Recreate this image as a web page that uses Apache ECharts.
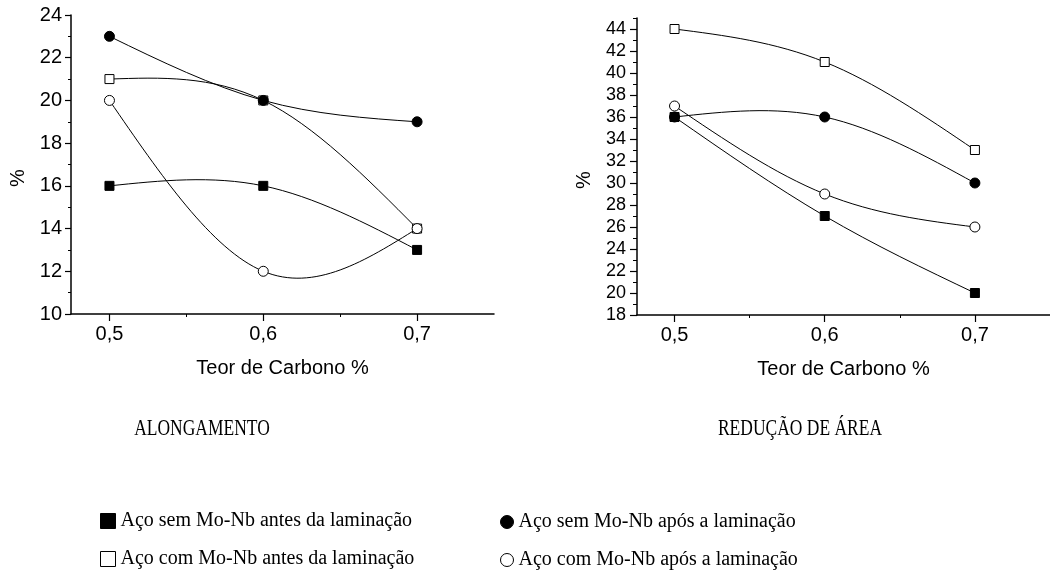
<!DOCTYPE html>
<html><head><meta charset="utf-8">
<script src="https://cdn.jsdelivr.net/npm/echarts@6/dist/echarts.min.js"></script>
<style>html,body{margin:0;padding:0;background:#fff}#c{width:1050px;height:581px}</style>
</head><body><div id="c"></div>
<script>
// ---- data ----
const carbon = [0.5, 0.6, 0.7];
const xTicks = [0.5, 0.6, 0.7];
const xMinorTicks = [0.55, 0.65];
const nameSemAntes = 'Aço sem Mo-Nb antes da laminação';
const nameSemApos = 'Aço sem Mo-Nb após a laminação';
const nameComAntes = 'Aço com Mo-Nb antes da laminação';
const nameComApos = 'Aço com Mo-Nb após a laminação';
// ALONGAMENTO (%)
const alongSemAntes = [16, 16, 13];
const alongSemApos = [23, 20, 19];
const alongComAntes = [21, 20, 14];
const alongComApos = [20, 12, 14];
// REDUÇÃO DE ÁREA (%)
const reducSemAntes = [36, 27, 20];
const reducSemApos = [36, 36, 30];
const reducComAntes = [44, 41, 33];
const reducComApos = [37, 29, 26];
const reducYTicks = [18, 20, 22, 24, 26, 28, 30, 32, 34, 36, 38, 40, 42, 44];
const reducYMinor = [19, 21, 23, 25, 27, 29, 31, 33, 35, 37, 39, 41, 43, 45];
const chartTitles = ['ALONGAMENTO', 'REDUÇÃO DE ÁREA'];
const xAxisName = 'Teor de Carbono %';
const yAxisName = '%';

// ---- chart ----
const chart = echarts.init(document.getElementById('c'), null, {renderer: 'canvas'});
const SANS = 'Liberation Sans';
const SERIF = 'Liberation Serif';
const black = '#000';
const fmtX = v => v.toFixed(1).replace('.', ',');

// natural cubic spline through pixel points (as drawn by the original plotting software)
function splinePath(pts) {
  const n = pts.length;
  let d = 'M' + pts[0][0] + ' ' + pts[0][1];
  if (n < 3) { for (let i = 1; i < n; i++) d += ' L' + pts[i][0] + ' ' + pts[i][1]; return d; }
  const h = [], M = new Array(n).fill(0);
  for (let i = 0; i < n - 1; i++) h.push(pts[i + 1][0] - pts[i][0]);
  const a = [], b = [], c = [], r = [];
  for (let i = 1; i < n - 1; i++) {
    a.push(h[i - 1]); b.push(2 * (h[i - 1] + h[i])); c.push(h[i]);
    r.push(6 * ((pts[i + 1][1] - pts[i][1]) / h[i] - (pts[i][1] - pts[i - 1][1]) / h[i - 1]));
  }
  const m = b.length;
  for (let i = 1; i < m; i++) { const w = a[i] / b[i - 1]; b[i] -= w * c[i - 1]; r[i] -= w * r[i - 1]; }
  const sol = new Array(m);
  sol[m - 1] = r[m - 1] / b[m - 1];
  for (let i = m - 2; i >= 0; i--) sol[i] = (r[i] - c[i] * sol[i + 1]) / b[i];
  for (let i = 0; i < m; i++) M[i + 1] = sol[i];
  for (let i = 0; i < n - 1; i++) {
    const [x0, y0] = pts[i], [x1, y1] = pts[i + 1], hh = h[i];
    const s = (y1 - y0) / hh;
    const d0 = s - hh * (2 * M[i] + M[i + 1]) / 6;
    const d1 = s + hh * (M[i] + 2 * M[i + 1]) / 6;
    d += ' C' + (x0 + hh / 3) + ' ' + (y0 + d0 * hh / 3) + ' ' + (x1 - hh / 3) + ' ' + (y1 - d1 * hh / 3) + ' ' + x1 + ' ' + y1;
  }
  return d;
}

function xAxes(gi) {
  return [
    {
      gridIndex: gi, type: 'value', min: 0.475, max: 0.75, position: 'bottom',
      axisLine: {show: true, lineStyle: {color: black, width: 1.5}},
      axisTick: {show: true, customValues: xTicks, length: 7, lineStyle: {color: black, width: 1.2}},
      axisLabel: {customValues: xTicks, formatter: fmtX, color: black, fontFamily: SANS, fontSize: 20, margin: 10},
      splitLine: {show: false},
      name: xAxisName, nameLocation: 'middle', nameGap: 44,
      nameTextStyle: {color: black, fontFamily: SANS, fontSize: 20}
    },
    {
      gridIndex: gi, type: 'value', min: 0.475, max: 0.75, position: 'bottom', offset: 0,
      axisLine: {show: false},
      axisTick: {show: true, customValues: xMinorTicks, length: 3, lineStyle: {color: black, width: 1}},
      axisLabel: {show: false},
      splitLine: {show: false}
    }
  ];
}

const yName = {
  name: yAxisName, nameLocation: 'middle', nameGap: 43, nameRotate: 90,
  nameTextStyle: {color: black, fontFamily: SANS, fontSize: 20, padding: [0, 27, 0, 0]}
};

function curveSeries(xi, yi, name, values) {
  return {
    type: 'custom', name: name, xAxisIndex: xi, yAxisIndex: yi, z: 1, silent: true, clip: false,
    data: carbon.map((c, i) => [c, values[i]]),
    encode: {x: 0, y: 1},
    renderItem: function (params, api) {
      if (params.dataIndex !== 0) return null;
      const pts = carbon.map((c, i) => api.coord([c, values[i]]));
      return {type: 'path', shape: {pathData: splinePath(pts)},
        style: {stroke: black, fill: 'none', lineWidth: 1}};
    },
    animation: false
  };
}

function markerSeries(xi, yi, name, values, symbol, filled) {
  return {
    type: 'scatter', name: name, xAxisIndex: xi, yAxisIndex: yi, z: 3,
    data: carbon.map((c, i) => [c, values[i]]),
    symbol: symbol, symbolSize: symbol === 'rect' ? 9 : 10,
    itemStyle: {color: filled ? black : '#fff', borderColor: black, borderWidth: 1, opacity: 1},
    emphasis: {disabled: true},
    animation: false
  };
}

const groups = [
  [0, 0, nameComAntes, alongComAntes, 'rect', false],
  [0, 0, nameComApos, alongComApos, 'circle', false],
  [0, 0, nameSemAntes, alongSemAntes, 'rect', true],
  [0, 0, nameSemApos, alongSemApos, 'circle', true],
  [2, 1, nameComAntes, reducComAntes, 'rect', false],
  [2, 1, nameComApos, reducComApos, 'circle', false],
  [2, 1, nameSemAntes, reducSemAntes, 'rect', true],
  [2, 1, nameSemApos, reducSemApos, 'circle', true]
];
const series = [];
groups.forEach(g => series.push(curveSeries(g[0], g[1], g[2], g[3])));
groups.forEach(g => series.push(markerSeries(g[0], g[1], g[2], g[3], g[4], g[5])));

const option = {
  backgroundColor: '#fff',
  animation: false,
  grid: [
    {left: 71, top: 15, width: 423, height: 299},
    {left: 637, top: 18, width: 414, height: 297}
  ],
  xAxis: [...xAxes(0), ...xAxes(1)],
  yAxis: [
    Object.assign({
      gridIndex: 0, type: 'value', min: 10, max: 24, interval: 2,
      axisLine: {show: true, lineStyle: {color: black, width: 1.5}},
      axisTick: {show: true, length: 6, lineStyle: {color: black, width: 1.2}},
      minorTick: {show: true, splitNumber: 2, length: 3, lineStyle: {color: black, width: 1}},
      axisLabel: {color: black, fontFamily: SANS, fontSize: 20, margin: 9},
      splitLine: {show: false}
    }, yName),
    Object.assign({
      gridIndex: 1, type: 'value', min: 18, max: 45, interval: 2, position: 'left',
      axisLine: {show: true, lineStyle: {color: black, width: 1.5}},
      axisTick: {show: true, customValues: reducYTicks, length: 7, lineStyle: {color: black, width: 1.2}},
      axisLabel: {customValues: reducYTicks, color: black, fontFamily: SANS, fontSize: 18, margin: 11},
      splitLine: {show: false}
    }, yName),
    {
      gridIndex: 1, type: 'value', min: 18, max: 45, position: 'left', offset: 0,
      axisLine: {show: false},
      axisTick: {show: true, customValues: reducYMinor, length: 4, lineStyle: {color: black, width: 1}},
      axisLabel: {show: false},
      splitLine: {show: false}
    }
  ],
  legend: [
    {
      left: 100, top: 511, orient: 'vertical', itemGap: 18, padding: 0, selectedMode: false,
      itemWidth: 15, itemHeight: 15,
      textStyle: {color: black, fontFamily: SERIF, fontSize: 20},
      data: [
        {name: nameSemAntes, icon: 'rect', itemStyle: {color: black, borderColor: black, borderWidth: 1}},
        {name: nameComAntes, icon: 'rect', itemStyle: {color: '#fff', borderColor: black, borderWidth: 1}}
      ]
    },
    {
      left: 500, top: 512, orient: 'vertical', itemGap: 18, padding: 0, selectedMode: false,
      itemWidth: 13, itemHeight: 13,
      textStyle: {color: black, fontFamily: SERIF, fontSize: 20},
      data: [
        {name: nameSemApos, icon: 'circle', itemStyle: {color: black, borderColor: black, borderWidth: 1}},
        {name: nameComApos, icon: 'circle', itemStyle: {color: '#fff', borderColor: black, borderWidth: 1}}
      ]
    }
  ],
  graphic: [
    {type: 'text', x: 202, y: 429, scaleX: 0.76, style: {text: chartTitles[0], fill: black, font: '23px "Liberation Serif"', align: 'center', verticalAlign: 'middle'}},
    {type: 'text', x: 800, y: 429, scaleX: 0.76, style: {text: chartTitles[1], fill: black, font: '23px "Liberation Serif"', align: 'center', verticalAlign: 'middle'}}
  ],
  series: series
};
chart.setOption(option);
</script>
</body></html>
